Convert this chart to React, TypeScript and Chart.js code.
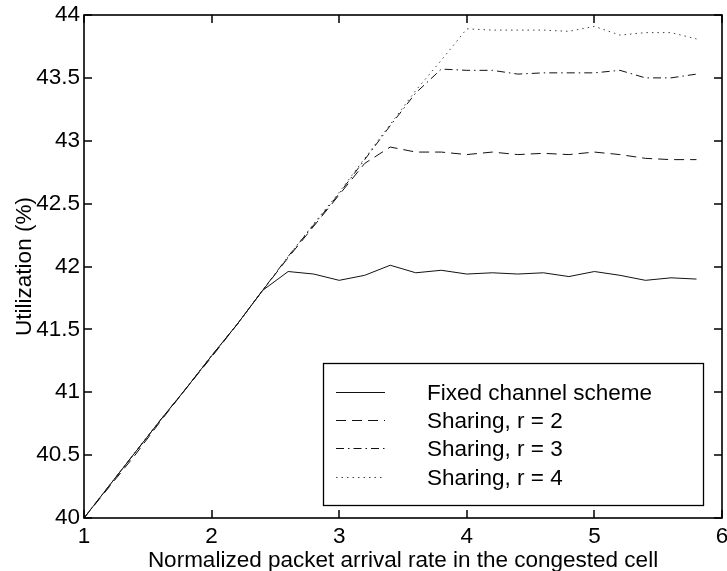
import React, { useEffect, useRef } from "react";
import { Chart, registerables } from "chart.js";

Chart.register(...registerables);

// Normalized packet arrival rate in the congested cell
const arrivalRate = [
  1.0, 1.2, 1.4, 1.6, 1.8, 2.0, 2.2, 2.4, 2.6, 2.8, 3.0, 3.2, 3.4,
  3.6, 3.8, 4.0, 4.2, 4.4, 4.6, 4.8, 5.0, 5.2, 5.4, 5.6, 5.8,
];

// Utilization (%) per scheme
const fixedChannel = [
  40.0, 40.26, 40.52, 40.78, 41.03, 41.29, 41.54, 41.81, 41.96, 41.94, 41.89, 41.93, 42.01,
  41.95, 41.97, 41.94, 41.95, 41.94, 41.95, 41.92, 41.96, 41.93, 41.89, 41.91, 41.9,
];
const sharingR2 = [
  40.0, 40.25, 40.5, 40.77, 41.03, 41.28, 41.54, 41.81, 42.07, 42.32, 42.57, 42.82, 42.95,
  42.91, 42.91, 42.89, 42.91, 42.89, 42.9, 42.89, 42.91, 42.89, 42.86, 42.85, 42.85,
];
const sharingR3 = [
  40.0, 40.26, 40.52, 40.78, 41.03, 41.29, 41.54, 41.81, 42.08, 42.33, 42.58, 42.85, 43.12,
  43.38, 43.57, 43.56, 43.56, 43.53, 43.54, 43.54, 43.54, 43.56, 43.5, 43.5, 43.53,
];
const sharingR4 = [
  40.0, 40.26, 40.52, 40.78, 41.03, 41.29, 41.54, 41.81, 42.08, 42.34, 42.59, 42.86, 43.13,
  43.4, 43.64, 43.89, 43.88, 43.88, 43.88, 43.87, 43.91, 43.84, 43.86, 43.86, 43.81,
];

const seriesLabels = [
  "Fixed channel scheme",
  "Sharing, r = 2",
  "Sharing, r = 3",
  "Sharing, r = 4",
];

// Axis tick values
const xTickValues = [1, 2, 3, 4, 5, 6];
const yTickValues = [40, 40.5, 41, 41.5, 42, 42.5, 43, 43.5, 44];

const xTitle = "Normalized packet arrival rate in the congested cell";
const yTitle = "Utilization (%)";

const FONT_FAMILY = "'Liberation Sans', Arial, Helvetica, sans-serif";
const FONT_SIZE = 22.5;

const toPoints = (ys: number[]) => ys.map((y, i) => ({ x: arrivalRate[i], y }));

// Plain numeric tick text: 40, 40.5, 41 ...
const plainTick = (value: number | string) => String(Number(value));

// Box frame with inward tick marks on all four sides
const framePlugin = {
  id: "frame",
  afterDraw(chart: any) {
    const { ctx, chartArea } = chart;
    const { left, right, top, bottom } = chartArea;
    const xs = chart.scales.x;
    const ys = chart.scales.y;
    const tl = 8;
    ctx.save();
    ctx.setLineDash([]);
    ctx.strokeStyle = "#000";
    ctx.lineWidth = 1.5;
    xTickValues.forEach((v) => {
      const px = Math.round(xs.getPixelForValue(v));
      ctx.beginPath();
      ctx.moveTo(px, bottom);
      ctx.lineTo(px, bottom - tl);
      ctx.moveTo(px, top);
      ctx.lineTo(px, top + tl);
      ctx.stroke();
    });
    yTickValues.forEach((v) => {
      const py = Math.round(ys.getPixelForValue(v));
      ctx.beginPath();
      ctx.moveTo(left, py);
      ctx.lineTo(left + tl, py);
      ctx.moveTo(right, py);
      ctx.lineTo(right - tl, py);
      ctx.stroke();
    });
    ctx.lineWidth = 1.6;
    ctx.strokeRect(left, top, right - left, bottom - top);
    ctx.restore();
  },
};

// Legend box in the lower right of the plot
const legendBoxPlugin = {
  id: "legendBox",
  afterDraw(chart: any) {
    const { ctx, chartArea } = chart;
    const w = 380;
    const h = 142;
    const bx = chartArea.right - 19 - w;
    const by = chartArea.bottom - 13 - h;
    ctx.save();
    ctx.fillStyle = "#fff";
    ctx.fillRect(bx, by, w, h);
    ctx.strokeStyle = "#000";
    ctx.lineWidth = 1.3;
    ctx.strokeRect(bx + 0.5, by + 0.5, w, h);
    ctx.font = `${FONT_SIZE}px ${FONT_FAMILY}`;
    ctx.textBaseline = "middle";
    ctx.textAlign = "left";
    chart.data.datasets.forEach((ds: any, i: number) => {
      const ry = Math.round(by + 28.7 + i * 28.35) + 0.5;
      ctx.beginPath();
      ctx.strokeStyle = ds.borderColor;
      ctx.lineWidth = ds.borderWidth;
      ctx.setLineDash(ds.borderDash || []);
      ctx.moveTo(bx + 13, ry);
      ctx.lineTo(bx + 62, ry);
      ctx.stroke();
      ctx.setLineDash([]);
      ctx.fillStyle = "#000";
      ctx.fillText(ds.label, bx + 104, ry + 1);
    });
    ctx.restore();
  },
};

export default function App() {
  const canvasRef = useRef<HTMLCanvasElement | null>(null);

  useEffect(() => {
    const canvas = canvasRef.current;
    if (!canvas) return;
    const font = { family: FONT_FAMILY, size: FONT_SIZE };
    const chart = new Chart(canvas, {
      type: "line",
      data: {
        datasets: [
          {
            label: seriesLabels[0],
            data: toPoints(fixedChannel),
            borderColor: "#111",
            borderWidth: 1,
            borderDash: [],
          },
          {
            label: seriesLabels[1],
            data: toPoints(sharingR2),
            borderColor: "#111",
            borderWidth: 1,
            borderDash: [10, 6],
          },
          {
            label: seriesLabels[2],
            data: toPoints(sharingR3),
            borderColor: "#111",
            borderWidth: 1,
            borderDash: [8, 4, 1.5, 4],
          },
          {
            label: seriesLabels[3],
            data: toPoints(sharingR4),
            borderColor: "#444",
            borderWidth: 1,
            borderDash: [1.5, 4],
          },
        ],
      },
      options: {
        responsive: false,
        animation: false,
        devicePixelRatio: 1,
        layout: { padding: { left: 0, right: 5, top: 15, bottom: 0 } },
        elements: {
          point: { radius: 0, hoverRadius: 0 },
          line: { tension: 0, fill: false },
        },
        plugins: {
          legend: { display: false },
          tooltip: { enabled: false },
          title: { display: false },
        },
        scales: {
          x: {
            type: "linear",
            min: 1,
            max: 6,
            grid: { display: false, drawTicks: false },
            border: { display: false },
            ticks: {
              stepSize: 1,
              color: "#000",
              font,
              padding: 5,
              maxRotation: 0,
              callback: plainTick,
            },
            afterBuildTicks: (s: any) => {
              s.ticks = xTickValues.map((value) => ({ value }));
            },
            title: {
              display: true,
              text: xTitle,
              color: "#000",
              font,
              padding: { top: 0, bottom: -3 },
            },
            afterFit: (s: any) => {
              s.height = 571 - 518;
              s.paddingLeft = 0;
              s.paddingRight = 0;
            },
          },
          y: {
            type: "linear",
            min: 40,
            max: 44,
            grid: { display: false, drawTicks: false },
            border: { display: false },
            ticks: { stepSize: 0.5, color: "#000", font, padding: 4, callback: plainTick },
            afterBuildTicks: (s: any) => {
              s.ticks = yTickValues.map((value) => ({ value }));
            },
            title: {
              display: true,
              text: yTitle,
              color: "#000",
              font,
              padding: { top: 11, bottom: 0 },
            },
            afterFit: (s: any) => {
              s.width = 84;
              s.paddingTop = 0;
              s.paddingBottom = 0;
            },
          },
        },
      },
      plugins: [framePlugin, legendBoxPlugin],
    });
    return () => chart.destroy();
  }, []);

  return (
    <div style={{ position: "absolute", left: 0, top: 0, width: 727, height: 571, background: "#fff" }}>
      <canvas ref={canvasRef} width={727} height={571} style={{ display: "block" }} />
    </div>
  );
}
